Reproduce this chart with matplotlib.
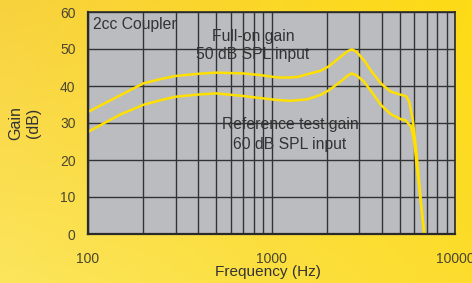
"""Hearing aid 2cc coupler gain response chart."""

import matplotlib

matplotlib.use("Agg")
import matplotlib.pyplot as plt
import numpy as np
from matplotlib.ticker import FixedLocator, LogLocator, NullFormatter

# Full-on gain, 50 dB SPL input
full_freq = [100, 150, 200, 250, 300, 400, 500, 700, 850, 1080, 1270, 1400,
             1570, 1850, 2050, 2380, 2600, 2735, 2900, 3190, 3500, 3945, 4460,
             5080, 5400, 5630, 5890, 6150, 6360, 6600, 6800]
full_gain = [33.0, 37.5, 40.7, 41.9, 42.7, 43.3, 43.6, 43.4, 43.0, 42.3, 42.3,
             42.5, 43.2, 44.1, 45.3, 47.9, 49.4, 49.9, 49.3, 47.0, 44.0, 40.7,
             38.5, 37.6, 37.3, 35.8, 30.8, 22.7, 14.6, 6.0, 0.0]

# Reference test gain, 60 dB SPL input
ref_freq = [100, 150, 200, 250, 300, 400, 500, 700, 850, 1080, 1270, 1570,
            1850, 2050, 2380, 2600, 2735, 2900, 3190, 3500, 3945, 4460, 5080,
            5360, 5760, 5980, 6200, 6500, 6800]
ref_gain = [27.6, 32.3, 34.9, 36.2, 37.1, 37.7, 38.0, 37.3, 36.8, 36.2, 36.0,
            36.4, 37.6, 38.8, 41.2, 42.8, 43.4, 42.9, 41.2, 38.5, 34.9, 32.4,
            31.0, 30.8, 29.0, 25.4, 18.0, 9.0, 0.0]

y_ticks = [0, 10, 20, 30, 40, 50, 60]
x_ticks = [100, 1000, 10000]
x_tick_labels = ["100", "1000", "10000"]

plt.rcParams["font.family"] = ["Liberation Sans", "DejaVu Sans"]

fig = plt.figure(figsize=(4.72, 2.83), dpi=100)

# yellow gradient behind everything
bg = fig.add_axes([0, 0, 1, 1], zorder=-10)
bg.axis("off")
tl = np.array([248, 210, 62]) / 255
bl = np.array([252, 229, 92]) / 255
tr = np.array([254, 219, 22]) / 255
br = np.array([252, 220, 45]) / 255
u = np.linspace(0, 1, 60)[None, :, None]
v = np.linspace(0, 1, 40)[:, None, None]
grad = (1 - v) * ((1 - u) * tl + u * tr) + v * ((1 - u) * bl + u * br)
bg.imshow(grad, aspect="auto", extent=[0, 1, 0, 1], interpolation="bilinear")

ax = fig.add_axes([88 / 472, 49 / 283, 367 / 472, 222 / 283])
ax.set_facecolor("#bbbcc0")
ax.set_xscale("log")
ax.set_xlim(100, 10000)
ax.set_ylim(0, 60)

ax.xaxis.set_major_locator(FixedLocator(x_ticks))
ax.xaxis.set_minor_locator(LogLocator(base=10, subs=np.arange(2, 10)))
ax.xaxis.set_minor_formatter(NullFormatter())
ax.set_xticks(x_ticks)
ax.set_xticklabels(x_tick_labels)
ax.set_yticks(y_ticks)
ax.tick_params(which="both", length=0, colors="#4a4632", labelsize=10)
ax.tick_params(axis="x", pad=13)
ax.tick_params(axis="y", pad=9)

ax.grid(which="both", axis="x", color="#333333", linewidth=1.0)
ax.grid(which="major", axis="y", color="#333333", linewidth=1.0)
ax.set_axisbelow(True)
for side in ["left", "bottom"]:
    ax.spines[side].set_linewidth(1.6)
for side in ["top", "right"]:
    ax.spines[side].set_linewidth(1.2)
for spine in ax.spines.values():
    spine.set_color("#2a2a2a")

ax.plot(full_freq, full_gain, color="#ffe000", linewidth=1.8, clip_on=True)
ax.plot(ref_freq, ref_gain, color="#ffe000", linewidth=1.8, clip_on=True)

text_kw = dict(color="#333333", fontsize=11.3, ha="center", va="center")
ax.text(93 / 472, 1 - 24 / 283, "2cc Coupler", transform=fig.transFigure,
        color="#333333", fontsize=11.3, ha="left", va="center")
ax.text(253 / 472, 1 - 36 / 283, "Full-on gain", transform=fig.transFigure, **text_kw)
ax.text(253 / 472, 1 - 55 / 283, "50 dB SPL input", transform=fig.transFigure, **text_kw)
ax.text(290 / 472, 1 - 125 / 283, "Reference test gain", transform=fig.transFigure, **text_kw)
ax.text(290 / 472, 1 - 144 / 283, "60 dB SPL input", transform=fig.transFigure, **text_kw)

fig.text(268 / 472, 1 - 272 / 283, "Frequency (Hz)", color="#333333",
         fontsize=11.1, ha="center", va="center")
fig.text(25 / 472, 1 - 123 / 283, "Gain\n(dB)", color="#333333", fontsize=11.5,
         ha="center", va="center", rotation=90, linespacing=1.25)

fig.savefig("out.png", dpi=100)
